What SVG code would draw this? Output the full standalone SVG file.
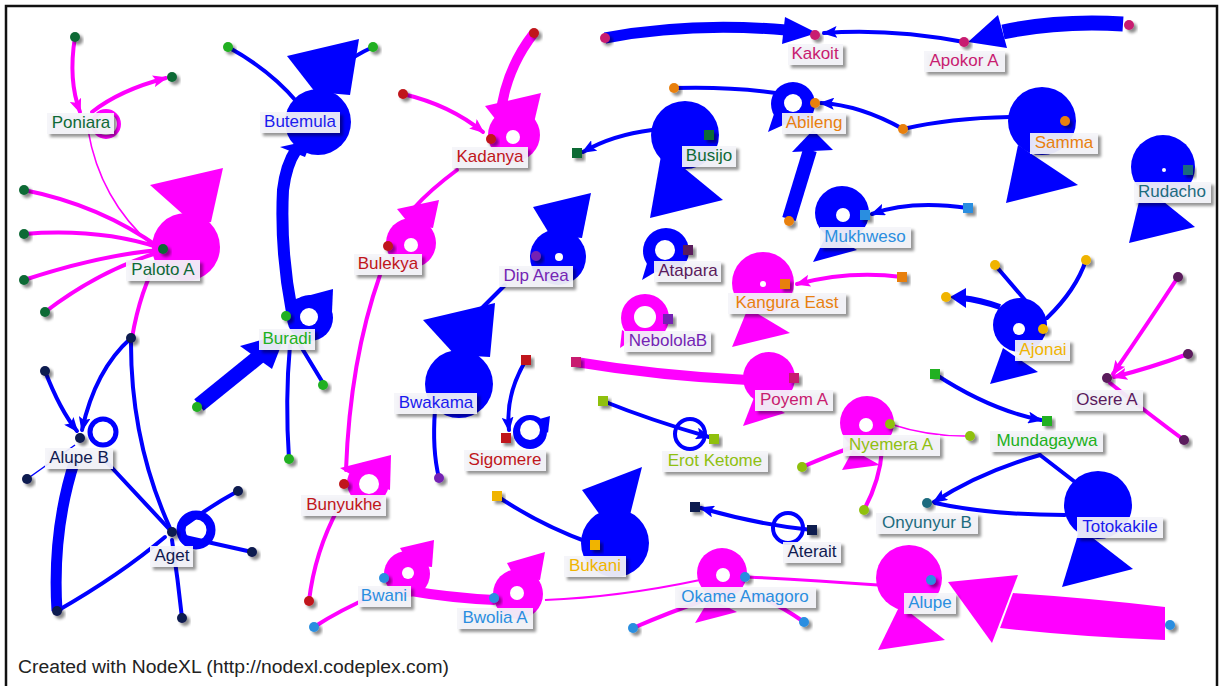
<svg xmlns="http://www.w3.org/2000/svg" width="1223" height="686" viewBox="0 0 1223 686">
<defs>
<filter id="sh" x="-30%" y="-30%" width="170%" height="190%"><feDropShadow dx="3" dy="3" stdDeviation="1.6" flood-color="#000" flood-opacity="0.45"/></filter>
<marker id="ab" markerUnits="userSpaceOnUse" markerWidth="15" markerHeight="12" refX="13" refY="6" orient="auto"><path d="M0,0 L15,6 L0,12 L3,6 z" fill="#0000ff"/></marker>
<marker id="am" markerUnits="userSpaceOnUse" markerWidth="15" markerHeight="12" refX="13" refY="6" orient="auto"><path d="M0,0 L15,6 L0,12 L3,6 z" fill="#ff00ff"/></marker>
<style>
.eb{fill:none;stroke:#0000ff;stroke-width:4;stroke-linecap:round}
.em{fill:none;stroke:#ff00ff;stroke-width:4;stroke-linecap:round}
.fb{fill:#0000ff}
.fm{fill:#ff00ff}
.hole{fill:#ffffff}
.lb{fill:#f4f4f9;fill-opacity:0.92;filter:url(#sh)}
.d{filter:url(#sh)}
text{font-family:"Liberation Sans",Arial,sans-serif;font-size:17px;text-anchor:middle}
.cdg{fill:#0e6a36}.cb{fill:#1a1aee}.cg{fill:#20b020}.cr{fill:#c0161b}.cp{fill:#7424b4}.cdp{fill:#5a1a5c}
.cc{fill:#c81c70}.co{fill:#e8800f}.ct{fill:#1d6b7e}.clb{fill:#2a8ee0}.cy{fill:#8fc010}.cyy{fill:#f0b400}.cn{fill:#101a50}
</style>
</defs>
<rect x="0" y="0" width="1223" height="686" fill="#ffffff"/>
<rect x="6" y="6" width="1211" height="690" fill="none" stroke="#111" stroke-width="2.5"/>

<g id="connectors">
<!-- Poniara / Paloto A -->
<path class="em" d="M75,37 Q68,80 80,112" marker-end="url(#am)"/>
<path class="em" d="M92,112 Q120,90 166,78" marker-end="url(#am)"/>
<circle cx="106" cy="124" r="13" fill="none" stroke="#ff00ff" stroke-width="4"/>
<path fill="none" stroke="#ff00ff" stroke-width="1.5" d="M88,130 Q100,200 152,245"/>
<path class="em" d="M24,190 Q100,205 160,248"/>
<path class="em" d="M24,234 Q100,228 160,248"/>
<path class="em" d="M24,280 Q100,255 160,250"/>
<path class="em" d="M45,312 Q100,270 160,252"/>
<path class="em" d="M160,255 Q140,290 132,338"/>
<!-- Butemula / Buradi -->
<path class="eb" d="M228,47 Q270,70 297,102"/>
<path class="eb" d="M373,47 Q355,55 335,70"/>
<path fill="none" stroke="#0000ff" stroke-width="12" d="M292,312 Q280,250 283,190 Q286,165 296,150"/>
<polygon class="fb" points="280,147 312,140 305,157"/>
<path fill="none" stroke="#0000ff" stroke-width="15" d="M199,405 L262,354"/>
<polygon class="fb" points="240,346 272,369 286,333"/>
<path class="eb" d="M300,345 L323,383"/>
<path class="eb" d="M290,345 Q285,400 289,459"/>
<!-- Kadanya / Bulekya / Bunyukhe -->
<path fill="none" stroke="#ff00ff" stroke-width="10" d="M534,33 Q505,70 500,118"/>
<path class="em" d="M403,94 Q450,105 483,132" marker-end="url(#am)"/>
<path class="em" d="M457,170 Q430,190 414,208"/>
<path class="em" d="M380,275 Q350,360 346,470"/>
<path class="em" d="M340,505 Q315,550 309,601"/>
<!-- Dip Area / Bwakama / Sigomere -->
<path class="eb" d="M505,285 L468,322"/>
<path class="eb" d="M435,410 Q432,450 439,478"/>
<path class="eb" d="M526,360 Q505,395 509,430" marker-end="url(#ab)"/>
<!-- Busijo / Abileng / Kakoit / Apokor A / Samma -->
<path class="eb" d="M652,130 Q612,135 583,152" marker-end="url(#ab)"/>
<path class="eb" d="M674,88 Q740,86 795,96"/>
<path class="eb" d="M903,129 Q860,105 821,103" marker-end="url(#ab)"/>
<path fill="none" stroke="#0000ff" stroke-width="14" d="M789,219 L810,150"/>
<polygon class="fb" points="792,152 833,150 813,130"/>
<path fill="none" stroke="#0000ff" stroke-width="11" d="M605,38 Q690,22 786,30"/>
<polygon class="fb" points="785,17 817,33 782,44"/>
<path class="eb" d="M964,42 Q890,28 824,33" marker-end="url(#ab)"/>
<path fill="none" stroke="#0000ff" stroke-width="15" d="M1123,24 Q1060,20 1003,32"/>
<polygon class="fb" points="998,15 968,42 1007,48"/>
<path class="eb" d="M903,129 Q950,118 1010,117"/>
<!-- Mukhweso / Kangura East / Poyem A / Erot Ketome -->
<path class="eb" d="M968,208 Q910,200 872,214" marker-end="url(#ab)"/>
<path class="em" d="M902,277 Q850,270 797,284" marker-end="url(#am)"/>
<path fill="none" stroke="#ff00ff" stroke-width="10" d="M576,362 Q660,376 748,380"/>
<circle cx="690" cy="434" r="15" fill="none" stroke="#0000ff" stroke-width="4"/>
<path class="eb" d="M603,401 Q650,420 709,437" marker-end="url(#ab)"/>
<!-- Nyemera A / Mundagaywa / Onyunyur B / Totokakile -->
<path class="em" d="M802,467 Q830,455 850,448"/>
<path class="em" d="M864,510 Q880,480 882,450"/>
<path fill="none" stroke="#ff00ff" stroke-width="1.5" d="M890,424 Q930,437 970,436"/>
<path class="eb" d="M935,374 Q990,410 1041,420" marker-end="url(#ab)"/>
<path class="eb" d="M1040,455 Q980,472 934,502" marker-end="url(#ab)"/>
<path class="eb" d="M1040,455 L1075,482"/>
<path class="eb" d="M1065,515 Q990,515 935,503"/>
<!-- Ajonai / Osere A -->
<path class="eb" d="M995,265 L1025,300"/>
<path class="eb" d="M1086,260 Q1076,290 1047,318"/>
<path fill="none" stroke="#0000ff" stroke-width="6" d="M1000,307 Q980,300 962,298"/>
<polygon class="fb" points="966,288 950,297 966,308"/>
<path class="em" d="M1178,277 Q1150,320 1113,374" marker-end="url(#am)"/>
<path class="em" d="M1188,354 Q1150,368 1114,377" marker-end="url(#am)"/>
<path class="em" d="M1110,383 Q1150,415 1184,440"/>
<!-- Alupe / Okame / Bwolia / Bwani / Bukani / Aterait -->
<path class="fm" d="M1165,607 L1165,640 Q1080,637 1000,628 L1013,593 Q1090,598 1165,607 Z"/>
<polygon class="fm" points="1018,575 948,582 992,643"/>
<path fill="none" stroke="#ff00ff" stroke-width="3" d="M878,585 Q810,580 748,577"/>
<path class="em" d="M633,628 Q670,612 705,600"/>
<path class="em" d="M804,622 Q780,605 755,595"/>
<path fill="none" stroke="#ff00ff" stroke-width="2" d="M700,580 Q620,597 545,600"/>
<path fill="none" stroke="#ff00ff" stroke-width="10" d="M405,590 Q450,598 495,600"/>
<path class="em" d="M314,627 Q340,610 375,595"/>
<path class="eb" d="M497,496 Q540,525 590,543"/>
<circle cx="788" cy="528" r="15" fill="none" stroke="#0000ff" stroke-width="4"/>
<path class="eb" d="M812,530 Q760,525 701,508" marker-end="url(#ab)"/>
<!-- Alupe B / Aget -->
<circle cx="103" cy="432" r="13" fill="none" stroke="#0000ff" stroke-width="5"/>
<path class="eb" d="M45,371 Q60,410 77,431" marker-end="url(#ab)"/>
<path fill="none" stroke="#0000ff" stroke-width="1.5" d="M27,479 L75,445"/>
<path class="eb" d="M131,338 Q95,370 82,430" marker-end="url(#ab)"/>
<path class="eb" d="M131,338 Q130,440 170,528"/>
<path class="eb" d="M100,455 L170,530"/>
<path fill="none" stroke="#0000ff" stroke-width="11" d="M75,460 Q52,530 57,611"/>
<path class="eb" d="M57,611 Q120,575 165,537"/>
<circle cx="196" cy="530" r="15" fill="none" stroke="#0000ff" stroke-width="9"/>
<path class="eb" d="M185,525 Q212,505 238,491"/>
<path class="eb" d="M185,537 L252,552"/>
<path class="eb" d="M172,540 Q178,580 182,618"/>
</g>

<g id="n-poniara">
<circle class="d cdg" cx="75" cy="37" r="5"/><circle class="d cdg" cx="172" cy="77" r="5"/>
<rect class="lb" x="47" y="113" width="67" height="21"/><text class="cdg" x="81" y="128">Poniara</text>
</g>
<g id="n-paloto-a">
<polygon class="fm" points="150,185 223,168 211,222 195,225"/><circle class="fm" cx="186" cy="247" r="34"/>
<circle class="d cdg" cx="24" cy="190" r="5"/><circle class="d cdg" cx="24" cy="234" r="5"/><circle class="d cdg" cx="24" cy="280" r="5"/><circle class="d cdg" cx="45" cy="312" r="5"/>
<circle class="d cdg" cx="163" cy="249" r="5"/>
<rect class="lb" x="126" y="260" width="74" height="21"/><text class="cdg" x="163" y="275">Paloto A</text>
</g>
<g id="n-butemula">
<polygon class="fb" points="287,56 359,39 350,95 315,92"/><circle class="fb" cx="318" cy="122" r="33"/>
<circle class="d cg" cx="228" cy="47" r="5"/><circle class="d cg" cx="373" cy="47" r="5"/>
<rect class="lb" x="260" y="112" width="80" height="21"/><text class="cb" x="300" y="127">Butemula</text>
</g>
<g id="n-buradi">
<polygon class="fb" points="292,300 333,289 332,312"/><circle class="fb" cx="310" cy="318" r="23"/><circle class="hole" cx="309" cy="317" r="9"/>
<circle class="d cg" cx="286" cy="316" r="5"/><circle class="d cg" cx="197" cy="407" r="5"/><circle class="d cg" cx="323" cy="385" r="5"/><circle class="d cg" cx="289" cy="459" r="5"/>
<rect class="lb" x="259" y="329" width="56" height="21"/><text class="cg" x="287" y="344">Buradi</text>
</g>
<g id="n-kadanya">
<polygon class="fm" points="485,106 541,93 533,127 500,125"/><circle class="fm" cx="514" cy="135" r="26"/><circle class="hole" cx="513" cy="137" r="7"/>
<circle class="d cr" cx="534" cy="33" r="5"/><circle class="d cr" cx="403" cy="94" r="5"/><circle class="d cr" cx="491" cy="139" r="5"/>
<rect class="lb" x="452" y="147" width="76" height="21"/><text class="cr" x="490" y="162">Kadanya</text>
</g>
<g id="n-bulekya">
<polygon class="fm" points="397,209 439,200 433,228 410,225"/><circle class="fm" cx="411" cy="243" r="25"/><circle class="hole" cx="411" cy="245" r="7"/>
<circle class="d cr" cx="388" cy="246" r="5"/>
<rect class="lb" x="354" y="254" width="68" height="21"/><text class="cr" x="388" y="269">Bulekya</text>
</g>
<g id="n-dip-area">
<polygon class="fb" points="533,207 591,193 582,238 550,235"/><circle class="fb" cx="558" cy="257" r="28"/><circle class="hole" cx="559" cy="257" r="4"/>
<circle class="d cp" cx="536" cy="256" r="5"/>
<rect class="lb" x="499" y="266" width="74" height="21"/><text class="cp" x="536" y="281">Dip Area</text>
</g>
<g id="n-bwakama">
<polygon class="fb" points="423,320 495,303 490,357 455,355"/><circle class="fb" cx="459" cy="384" r="34"/>
<circle class="d cp" cx="439" cy="478" r="5"/>
<rect class="lb" x="394" y="393" width="83" height="21"/><text class="cb" x="436" y="408">Bwakama</text>
</g>
<g id="n-sigomere">
<polygon class="fb" points="536,420 550,416 548,433"/><circle class="fb" cx="530" cy="432" r="17"/><circle class="hole" cx="530" cy="430" r="10"/>
<rect class="d cr" x="521" y="355" width="10" height="10"/><rect class="d cr" x="501" y="433" width="10" height="10"/>
<rect class="lb" x="464" y="450" width="82" height="21"/><text class="cr" x="505" y="465">Sigomere</text>
</g>
<g id="n-bunyukhe">
<polygon class="fm" points="340,468 391,455 390,490 360,480"/><circle class="fm" cx="368" cy="483" r="21"/><circle class="hole" cx="369" cy="484" r="10"/>
<circle class="d cr" cx="344" cy="484" r="5"/><circle class="d cr" cx="309" cy="601" r="5"/>
<rect class="lb" x="301" y="495" width="85" height="21"/><text class="cr" x="344" y="510">Bunyukhe</text>
</g>
<g id="n-busijo">
<polygon class="fb" points="662,150 723,200 650,218"/><circle class="fb" cx="685" cy="135" r="34"/>
<rect class="d cdg" x="704" y="130" width="10" height="10"/><rect class="d cdg" x="572" y="148" width="10" height="10"/>
<rect class="lb" x="682" y="146" width="54" height="21"/><text class="cdg" x="709" y="161">Busijo</text>
</g>
<g id="n-abileng">
<circle class="fb" cx="793" cy="104" r="22"/><circle class="hole" cx="793" cy="103" r="9"/><polygon class="fb" points="768,132 790,122 776,108"/>
<circle class="d co" cx="674" cy="88" r="5"/><circle class="d co" cx="903" cy="129" r="5"/><circle class="d co" cx="789" cy="221" r="5"/><circle class="d co" cx="815" cy="103" r="5"/>
<rect class="lb" x="782" y="113" width="64" height="21"/><text class="co" x="814" y="128">Abileng</text>
</g>
<g id="n-kakoit">
<circle class="d cc" cx="605" cy="38" r="5"/><circle class="d cc" cx="815" cy="35" r="5"/>
<rect class="lb" x="788" y="44" width="55" height="21"/><text class="cc" x="815" y="59">Kakoit</text>
</g>
<g id="n-apokor-a">
<circle class="d cc" cx="1129" cy="25" r="5"/><circle class="d cc" cx="964" cy="42" r="5"/>
<rect class="lb" x="924" y="51" width="81" height="21"/><text class="cc" x="964" y="66">Apokor A</text>
</g>
<g id="n-samma">
<polygon class="fb" points="1018,145 1078,185 1006,203"/><circle class="fb" cx="1042" cy="121" r="34"/>
<circle class="d co" cx="1065" cy="121" r="5"/>
<rect class="lb" x="1030" y="133" width="68" height="21"/><text class="co" x="1064" y="148">Samma</text>
</g>
<g id="n-rudacho">
<polygon class="fb" points="1143,185 1195,227 1129,243"/><circle class="fb" cx="1163" cy="167" r="32"/><circle class="hole" cx="1164" cy="170" r="2"/>
<rect class="d ct" x="1183" y="165" width="10" height="10"/>
<rect class="lb" x="1134" y="182" width="77" height="21"/><text class="ct" x="1172" y="197">Rudacho</text>
</g>
<g id="n-mukhweso">
<polygon class="fb" points="828,232 857,250 813,262"/><circle class="fb" cx="842" cy="213" r="27"/><circle class="hole" cx="843" cy="215" r="7"/>
<rect class="d clb" x="860" y="210" width="10" height="10"/><rect class="d clb" x="963" y="203" width="10" height="10"/>
<rect class="lb" x="820" y="227" width="91" height="21"/><text class="clb" x="865" y="242">Mukhweso</text>
</g>
<g id="n-atapara">
<polygon class="fb" points="648,260 662,268 642,280"/><circle class="fb" cx="666" cy="251" r="23"/><circle class="hole" cx="665" cy="250" r="10"/>
<rect class="d cdp" x="683" y="245" width="10" height="10"/>
<rect class="lb" x="654" y="261" width="67" height="21"/><text class="cdp" x="688" y="276">Atapara</text>
</g>
<g id="n-kangura-east">
<polygon class="fm" points="748,308 790,333 732,347"/><circle class="fm" cx="763" cy="283" r="31"/><circle class="hole" cx="763" cy="284" r="3"/>
<rect class="d co" x="780" y="279" width="10" height="10"/><rect class="d co" x="897" y="272" width="10" height="10"/>
<rect class="lb" x="728" y="293" width="118" height="21"/><text class="co" x="787" y="308">Kangura East</text>
</g>
<g id="n-nebololab">
<polygon class="fm" points="622,330 635,338 620,348"/><circle class="fm" cx="645" cy="318" r="24"/><circle class="hole" cx="645" cy="317" r="11"/>
<rect class="d cp" x="663" y="314" width="10" height="10"/>
<rect class="lb" x="624" y="331" width="87" height="21"/><text class="cp" x="668" y="346">NebololaB</text>
</g>
<g id="n-poyem-a">
<polygon class="fm" points="755,395 785,413 743,426"/><circle class="fm" cx="769" cy="378" r="26"/>
<rect class="d cc" x="571" y="357" width="10" height="10"/><rect class="d cc" x="789" y="373" width="10" height="10"/>
<rect class="lb" x="755" y="390" width="78" height="21"/><text class="cc" x="794" y="405">Poyem A</text>
</g>
<g id="n-erot-ketome">
<rect class="d cy" x="598" y="396" width="10" height="10"/><rect class="d cy" x="709" y="434" width="10" height="10"/>
<rect class="lb" x="662" y="451" width="106" height="21"/><text class="cy" x="715" y="466">Erot Ketome</text>
</g>
<g id="n-nyemera-a">
<polygon class="fm" points="853,450 880,465 842,470"/><circle class="fm" cx="867" cy="423" r="27"/><circle class="hole" cx="866" cy="425" r="7"/>
<circle class="d cy" cx="890" cy="424" r="5"/><circle class="d cy" cx="802" cy="467" r="5"/><circle class="d cy" cx="864" cy="510" r="5"/><circle class="d cy" cx="970" cy="436" r="5"/>
<rect class="lb" x="843" y="435" width="97" height="21"/><text class="cy" x="891" y="450">Nyemera A</text>
</g>
<g id="n-mundagaywa">
<rect class="d cg" x="930" y="369" width="10" height="10"/><rect class="d cg" x="1042" y="416" width="10" height="10"/>
<rect class="lb" x="990" y="431" width="113" height="21"/><text class="cg" x="1047" y="446">Mundagaywa</text>
</g>
<g id="n-onyunyur-b">
<circle class="d ct" cx="927" cy="503" r="5"/>
<rect class="lb" x="876" y="513" width="102" height="21"/><text class="ct" x="927" y="528">Onyunyur B</text>
</g>
<g id="n-totokakile">
<polygon class="fb" points="1080,528 1133,569 1062,587"/><circle class="fb" cx="1098" cy="505" r="34"/>
<rect class="lb" x="1077" y="517" width="86" height="21"/><text class="cb" x="1120" y="532">Totokakile</text>
</g>
<g id="n-ajonai">
<polygon class="fb" points="1003,348 1038,372 990,384"/><circle class="fb" cx="1020" cy="325" r="27"/><circle class="hole" cx="1019" cy="329" r="6"/>
<circle class="d cyy" cx="995" cy="265" r="5"/><circle class="d cyy" cx="1086" cy="260" r="5"/><circle class="d cyy" cx="946" cy="297" r="5"/><circle class="d cyy" cx="1043" cy="329" r="5"/>
<rect class="lb" x="1015" y="340" width="55" height="21"/><text class="cyy" x="1043" y="355">Ajonai</text>
</g>
<g id="n-osere-a">
<circle class="d cdp" cx="1178" cy="277" r="5"/><circle class="d cdp" cx="1188" cy="354" r="5"/><circle class="d cdp" cx="1184" cy="440" r="5"/><circle class="d cdp" cx="1107" cy="378" r="5"/>
<rect class="lb" x="1072" y="390" width="71" height="21"/><text class="cdp" x="1107" y="405">Osere A</text>
</g>
<g id="n-alupe">
<polygon class="fm" points="900,605 945,640 878,650"/><circle class="fm" cx="909" cy="578" r="33"/>
<circle class="d clb" cx="931" cy="580" r="5"/><circle class="d clb" cx="1170" cy="625" r="5"/>
<rect class="lb" x="904" y="593" width="52" height="21"/><text class="clb" x="930" y="608">Alupe</text>
</g>
<g id="n-okame-amagoro">
<polygon class="fm" points="710,598 737,612 695,623"/><circle class="fm" cx="722" cy="573" r="25"/><circle class="hole" cx="723" cy="575" r="7"/>
<circle class="d clb" cx="745" cy="577" r="5"/><circle class="d clb" cx="633" cy="628" r="5"/><circle class="d clb" cx="804" cy="622" r="5"/>
<rect class="lb" x="675" y="587" width="141" height="21"/><text class="clb" x="745" y="602">Okame Amagoro</text>
</g>
<g id="n-bwolia-a">
<polygon class="fm" points="507,563 545,552 540,580 515,578"/><circle class="fm" cx="518" cy="594" r="25"/><circle class="hole" cx="517" cy="593" r="7"/>
<circle class="d clb" cx="494" cy="598" r="5"/>
<rect class="lb" x="457" y="608" width="76" height="21"/><text class="clb" x="495" y="623">Bwolia A</text>
</g>
<g id="n-bwani">
<polygon class="fm" points="400,548 434,540 432,567 410,565"/><circle class="fm" cx="407" cy="574" r="23"/><circle class="hole" cx="408" cy="573" r="6"/>
<circle class="d clb" cx="384" cy="578" r="5"/><circle class="d clb" cx="314" cy="627" r="5"/>
<rect class="lb" x="358" y="586" width="53" height="21"/><text class="clb" x="384" y="601">Bwani</text>
</g>
<g id="n-bukani">
<polygon class="fb" points="582,490 642,467 630,515 600,515"/><circle class="fb" cx="615" cy="543" r="34"/>
<rect class="d cyy" x="492" y="491" width="10" height="10"/><rect class="d cyy" x="590" y="540" width="10" height="10"/>
<rect class="lb" x="564" y="556" width="62" height="21"/><text class="cyy" x="595" y="571">Bukani</text>
</g>
<g id="n-aterait">
<rect class="d cn" x="807" y="525" width="10" height="10"/><rect class="d cn" x="690" y="502" width="10" height="10"/>
<rect class="lb" x="783" y="542" width="58" height="21"/><text class="cn" x="812" y="557">Aterait</text>
</g>
<g id="n-alupe-b">
<circle class="d cn" cx="131" cy="338" r="5"/><circle class="d cn" cx="45" cy="371" r="5"/><circle class="d cn" cx="27" cy="479" r="5"/><circle class="d cn" cx="57" cy="611" r="5"/>
<circle class="d cn" cx="80" cy="438" r="5"/>
<rect class="lb" x="45" y="448" width="68" height="21"/><text class="cn" x="79" y="463">Alupe B</text>
</g>
<g id="n-aget">
<circle class="d cn" cx="238" cy="491" r="5"/><circle class="d cn" cx="252" cy="552" r="5"/><circle class="d cn" cx="182" cy="618" r="5"/><circle class="d cn" cx="172" cy="532" r="5"/>
<rect class="lb" x="150" y="546" width="43" height="21"/><text class="cn" x="172" y="561">Aget</text>
</g>

<text x="18" y="673" style="text-anchor:start;font-size:18px;fill:#222" textLength="431" lengthAdjust="spacingAndGlyphs">Created with NodeXL (http://nodexl.codeplex.com)</text>
</svg>
